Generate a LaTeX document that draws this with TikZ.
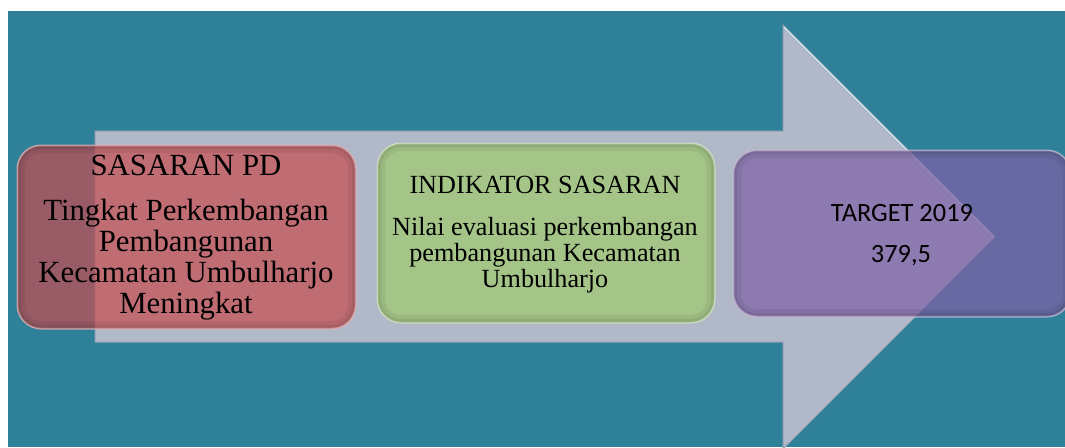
\documentclass[tikz,border=0pt]{standalone}
\usepackage{fontspec}
\setmainfont{Liberation Serif}
\newfontfamily\calib{Carlito}
\definecolor{tealbg}{HTML}{2F8199}
\definecolor{arrowc}{HTML}{B1B8C8}
\definecolor{arrowedge}{HTML}{98A2B2}
\definecolor{arrowlight}{HTML}{CBE2EA}
\definecolor{redc}{HTML}{C74C50}
\definecolor{greenc}{HTML}{A3C77F}
\definecolor{purplec}{HTML}{7F60A6}
\tikzset{
  cbox/.style 2 args={rectangle, rounded corners=24pt, inner sep=0pt,
    fill=#1, fill opacity=#2, draw=#1!40!white, draw opacity=0.7, line width=1pt,
    path picture={
      \draw[black, opacity=0.06, line width=16pt, rounded corners=24pt]
        (path picture bounding box.south west) rectangle (path picture bounding box.north east);
      \draw[black, opacity=0.07, line width=8pt, rounded corners=24pt]
        (path picture bounding box.south west) rectangle (path picture bounding box.north east);
      \draw[white, opacity=0.3, line width=2.5pt, rounded corners=24pt]
        (path picture bounding box.south west) rectangle (path picture bounding box.north east);
    }},
  txt/.style={anchor=base, inner sep=0pt, text=black},
  redtxt/.style={txt, font=\fontsize{30.8}{31}\selectfont},
  greentxt/.style={txt, font=\fontsize{26.2}{27}\selectfont},
  purpletxt/.style={txt, font=\calib\fontsize{26.4}{27}\selectfont},
}
\begin{document}
\begin{tikzpicture}[x=1pt,y=-1pt]
\useasboundingbox (0,0) rectangle (1065,447);
\fill[white] (0,0) rectangle (1065,447);
\fill[tealbg] (8,11) rectangle (1065,447);
% big arrow
\fill[arrowc, draw=arrowedge, line width=1pt]
  (95,131) -- (783,131) -- (783,25) -- (995,237) -- (783,449) -- (783,342) -- (95,342) -- cycle;
\draw[arrowlight, line width=1.2pt] (784,27) -- (994,237);
% boxes
\node[cbox={redc}{0.7}, minimum width=339pt, minimum height=184pt] (red) at (186.5,237) {};
\node[cbox={greenc}{0.88}, minimum width=338pt, minimum height=180pt] (green) at (546,233) {};
\node[cbox={purplec}{0.7}, minimum width=338pt, minimum height=167pt] (purple) at (902,233.5) {};
% texts
\node[redtxt] (r0) at (186,175) {SASARAN PD};
\node[redtxt] (r1) at (186,220) {Tingkat Perkembangan};
\node[redtxt] (r2) at (186,251) {Pembangunan};
\node[redtxt] (r3) at (186,282) {Kecamatan Umbulharjo};
\node[redtxt] (r4) at (186,313) {Meningkat};
\node[greentxt] (g0) at (545,193) {INDIKATOR SASARAN};
\node[greentxt] (g1) at (545,235) {Nilai evaluasi perkembangan};
\node[greentxt] (g2) at (545,261) {pembangunan Kecamatan};
\node[greentxt] (g3) at (545,287) {Umbulharjo};
\node[purpletxt] (p0) at (902,221) {TARGET 2019};
\node[purpletxt] (p1) at (901,262) {379,5};
\end{tikzpicture}
\end{document}
